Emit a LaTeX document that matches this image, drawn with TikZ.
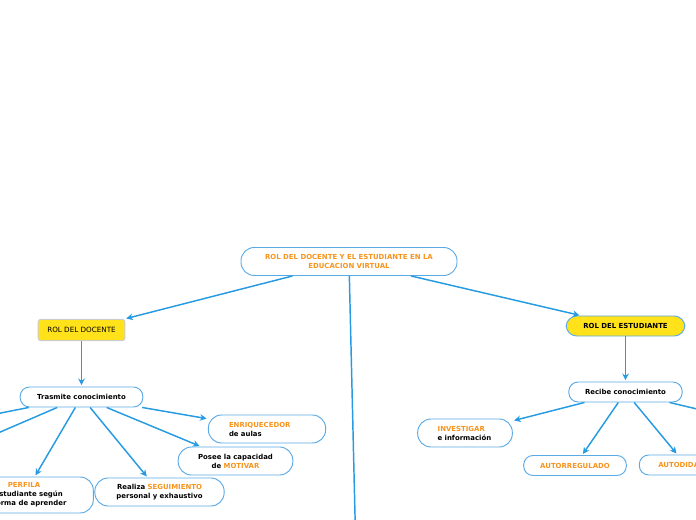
\documentclass[tikz,border=0pt]{standalone}
\usepackage{fontspec}
\setmainfont{DejaVu Sans}
\usepackage{tikz}
\usetikzlibrary{arrows.meta}
\usepackage{xcolor}
\definecolor{mapblue}{RGB}{38,155,226}
\definecolor{mapedge}{RGB}{90,170,230}
\definecolor{maporange}{RGB}{247,148,29}
\definecolor{mapyellow}{RGB}{255,226,26}

\begin{document}
\begin{tikzpicture}[x=0.75pt, y=-0.75pt,
    font=\fontsize{5.2}{6.75}\selectfont\bfseries,
    topic/.style={rectangle, rounded corners=10pt, draw=mapedge, line width=0.7pt, fill=white, align=center},
    main/.style={rectangle, rounded corners=8pt, draw=mapedge, line width=0.7pt, fill=mapyellow, align=center},
    link/.style={mapblue, line width=1.1pt, -{Stealth[length=5pt, width=5pt]}, shorten >=1pt}]
    \useasboundingbox (0,0) rectangle (696,520);
    \clip (0,0) rectangle (696,520);

    % Level 0 (central topic)
    \node[topic, minimum width=162pt, minimum height=21pt] (root) at (349,261.5)
        {{\color{maporange}ROL DEL DOCENTE Y EL ESTUDIANTE EN LA}\\{\color{maporange}EDUCACION VIRTUAL}};
    \coordinate (down) at (357,600);

    % Level 1
    \node[main, rounded corners=2pt, draw=gray!40, minimum width=65pt, minimum height=16pt, font=\fontsize{5.4}{6.75}\selectfont] (doc) at (81.5,330) {ROL DEL DOCENTE};
    \node[main, minimum width=89pt, minimum height=15pt] (est) at (625.5,326) {ROL DEL ESTUDIANTE};

    % Level 2
    \node[topic, rounded corners=7pt, minimum width=92pt, minimum height=15pt] (tras) at (81.5,397) {Trasmite conocimiento};
    \node[topic, rounded corners=7pt, minimum width=85pt, minimum height=15pt] (rec) at (625.5,392) {Recibe conocimiento};

    % Level 3 (docente)
    \node[topic, minimum width=88pt, minimum height=21pt, align=left, text width=57pt] (enr) at (267,429)
        {{\color{maporange}ENRIQUECEDOR}\\de aulas};
    \node[topic, minimum width=86pt, minimum height=21pt] (mot) at (235.5,461)
        {Posee la capacidad\\de {\color{maporange}MOTIVAR}};
    \node[topic, minimum width=97pt, minimum height=21pt] (seg) at (159.5,492)
        {Realiza {\color{maporange}SEGUIMIENTO}\\personal y exhaustivo};
    \node[topic, minimum width=104pt, minimum height=27pt] (per) at (24,495)
        {{\color{maporange}PERFILA}\\al estudiante según\\su forma de aprender};
    \coordinate (offa) at (-100,433);
    \coordinate (offb) at (-60,458);

    % Level 3 (estudiante)
    \node[topic, minimum width=71pt, minimum height=21pt, align=left, text width=41pt] (inv) at (465,433)
        {{\color{maporange}INVESTIGAR}\\e información};
    \node[topic, rounded corners=7pt, minimum width=77pt, minimum height=15pt] (aut) at (575,465.5) {\color{maporange}AUTORREGULADO};
    \node[topic, rounded corners=7pt, minimum width=70pt, minimum height=15pt] (did) at (686,465) {\color{maporange}AUTODIDACTA};
    \coordinate (offc) at (760,424);

    % Connections
    \draw[mapblue, line width=1.1pt] (root) -- (down);
    \draw[link] (root) -- (doc);
    \draw[link] (root) -- (est);
    \draw[link] (doc) -- (tras);
    \draw[link] (est) -- (rec);
    \foreach \n in {enr,mot,seg,per,offa,offb} {
        \draw[link] (tras) -- (\n);
    }
    \foreach \n in {inv,aut,did,offc} {
        \draw[link] (rec) -- (\n);
    }
\end{tikzpicture}
\end{document}
